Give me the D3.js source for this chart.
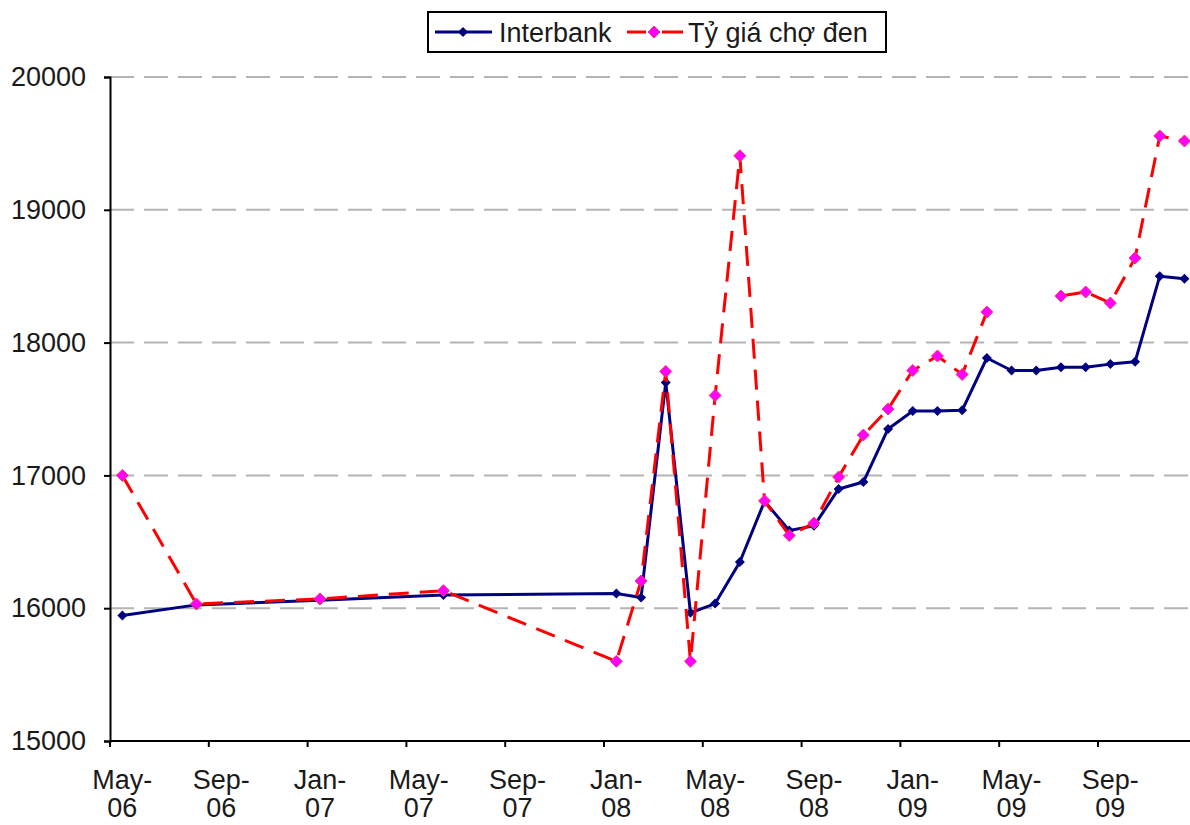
<!DOCTYPE html>
<html>
<head>
<meta charset="utf-8">
<script src="https://cdn.jsdelivr.net/npm/d3@7"></script>
<style>
  html, body { margin: 0; padding: 0; background: #fff; }
  svg { display: block; }
  text { font-family: "Liberation Sans", Arial, sans-serif; }
</style>
</head>
<body>
<svg id="chart" width="1190" height="825"></svg>
<script>
// ---- Data ----
// Month slots on the category axis (May-06 .. Dec-09)
const axisMonths = ["May-06","Jun-06","Jul-06","Aug-06","Sep-06","Oct-06","Nov-06","Dec-06",
  "Jan-07","Feb-07","Mar-07","Apr-07","May-07","Jun-07","Jul-07","Aug-07","Sep-07","Oct-07","Nov-07","Dec-07",
  "Jan-08","Feb-08","Mar-08","Apr-08","May-08","Jun-08","Jul-08","Aug-08","Sep-08","Oct-08","Nov-08","Dec-08",
  "Jan-09","Feb-09","Mar-09","Apr-09","May-09","Jun-09","Jul-09","Aug-09","Sep-09","Oct-09","Nov-09","Dec-09"];
const tickMonths = ["May-06","Sep-06","Jan-07","May-07","Sep-07","Jan-08","May-08","Sep-08","Jan-09","May-09","Sep-09"];
// Observation months
const obsMonths = ["May-06","Aug-06","Jan-07","Jun-07","Jan-08","Feb-08","Mar-08","Apr-08","May-08","Jun-08",
  "Jul-08","Aug-08","Sep-08","Oct-08","Nov-08","Dec-08","Jan-09","Feb-09","Mar-09","Apr-09","May-09","Jun-09",
  "Jul-09","Aug-09","Sep-09","Oct-09","Nov-09","Dec-09"];
const interbank = [15945,16025,16060,16100,16110,16080,17700,15965,16035,16348,
  16805,16585,16620,16898,16950,17350,17485,17485,17490,17884,17790,17790,
  17815,17815,17838,17855,18500,18480];
const choDen = [17000,16032,16070,16132,15600,16205,17783,15600,17602,19407,
  16808,16548,16641,16988,17304,17500,17790,17899,17760,18230,null,null,
  18351,18381,18298,18637,19556,19518];
const yTicks = [15000,16000,17000,18000,19000,20000];
const seriesNames = ["Interbank","Tỷ giá chợ đen"];

// ---- Layout ----
const svg = d3.select("#chart");
const x0 = 110, yTop = 77, yBot = 741, slotW = 24.7;
const FS = 27, TXT = "#1a1a1a";
const x = d3.scaleBand().domain(axisMonths).range([x0, x0 + slotW * axisMonths.length]).padding(0);
const y = d3.scaleLinear().domain([15000, 20000]).range([yBot, yTop]);
const cx = m => x(m) + x.bandwidth() / 2;
const diamond = r => `M0,${-r}L${r},0L0,${r}L${-r},0Z`;

// gridlines
svg.append("g").selectAll("line").data(yTicks.filter(v => v > 15000)).join("line")
  .attr("x1", x0).attr("x2", 1190)
  .attr("y1", d => y(d)).attr("y2", d => y(d))
  .attr("stroke", "#b4b4b4").attr("stroke-width", 2).attr("stroke-dasharray", "24,10");

// y axis
const yAxis = svg.append("g").attr("transform", `translate(${x0},0)`)
  .call(d3.axisLeft(y).tickValues(yTicks).tickSize(6).tickPadding(18).tickFormat(d3.format("d")));
yAxis.select(".domain").attr("stroke", "#000").attr("stroke-width", 2);
yAxis.selectAll(".tick line").attr("stroke", "#000").attr("stroke-width", 2);
yAxis.selectAll("text").attr("font-size", FS).attr("fill", TXT)
  .attr("font-family", "'Liberation Sans', Arial, sans-serif");

// x axis
const xg = svg.append("g");
xg.append("line").attr("x1", x0).attr("x2", 1200).attr("y1", yBot).attr("y2", yBot)
  .attr("stroke", "#000").attr("stroke-width", 2);
xg.selectAll("line.tk").data(tickMonths).join("line").attr("class", "tk")
  .attr("x1", d => x(d)).attr("x2", d => x(d)).attr("y1", yBot).attr("y2", yBot + 6)
  .attr("stroke", "#000").attr("stroke-width", 2);
const lbl = xg.selectAll("text").data(tickMonths).join("text")
  .attr("text-anchor", "middle").attr("font-size", FS).attr("fill", TXT)
  .attr("x", d => cx(d));
lbl.append("tspan").attr("x", d => cx(d)).attr("y", 789).text(d => d.split("-")[0] + "-");
lbl.append("tspan").attr("x", d => cx(d)).attr("y", 817).text(d => d.split("-")[1]);

// lines
const pts = vals => obsMonths.map((m, i) => ({m, v: vals[i]}));
const line = d3.line().defined(d => d.v != null).x(d => cx(d.m)).y(d => y(d.v));

svg.append("path").datum(pts(interbank)).attr("d", line)
  .attr("fill", "none").attr("stroke", "#000080").attr("stroke-width", 3).attr("stroke-linejoin", "round");
svg.append("g").selectAll("path").data(pts(interbank)).join("path")
  .attr("d", diamond(5))
  .attr("transform", d => `translate(${cx(d.m)},${y(d.v)})`)
  .attr("fill", "#000080");

svg.append("path").datum(pts(choDen)).attr("d", line)
  .attr("fill", "none").attr("stroke", "#ff0000").attr("stroke-width", 3).attr("stroke-dasharray", "20,11");
svg.append("g").selectAll("path").data(pts(choDen).filter(d => d.v != null)).join("path")
  .attr("d", diamond(6))
  .attr("transform", d => `translate(${cx(d.m)},${y(d.v)})`)
  .attr("fill", "#ff00ff").attr("stroke", "#ff3366").attr("stroke-width", 1);

// legend
const lg = svg.append("g");
lg.append("rect").attr("x", 428).attr("y", 12).attr("width", 458).attr("height", 40)
  .attr("fill", "#fff").attr("stroke", "#000").attr("stroke-width", 2);
lg.append("line").attr("x1", 435).attr("x2", 492).attr("y1", 32).attr("y2", 32)
  .attr("stroke", "#000080").attr("stroke-width", 3);
lg.append("path").attr("d", diamond(5)).attr("transform", "translate(463,32)").attr("fill", "#000080");
lg.append("text").attr("x", 499).attr("y", 42).attr("font-size", FS).attr("fill", TXT).text(seriesNames[0]);
lg.append("line").attr("x1", 627).attr("x2", 683).attr("y1", 32).attr("y2", 32)
  .attr("stroke", "#ff0000").attr("stroke-width", 3);
lg.append("rect").attr("x", 646).attr("y", 30).attr("width", 16).attr("height", 4).attr("fill", "#fff");
lg.append("path").attr("d", diamond(6)).attr("transform", "translate(654,32)")
  .attr("fill", "#ff00ff").attr("stroke", "#ff3366").attr("stroke-width", 1);
lg.append("text").attr("x", 688).attr("y", 42).attr("font-size", FS).attr("fill", TXT).text(seriesNames[1]);
</script>
</body>
</html>
